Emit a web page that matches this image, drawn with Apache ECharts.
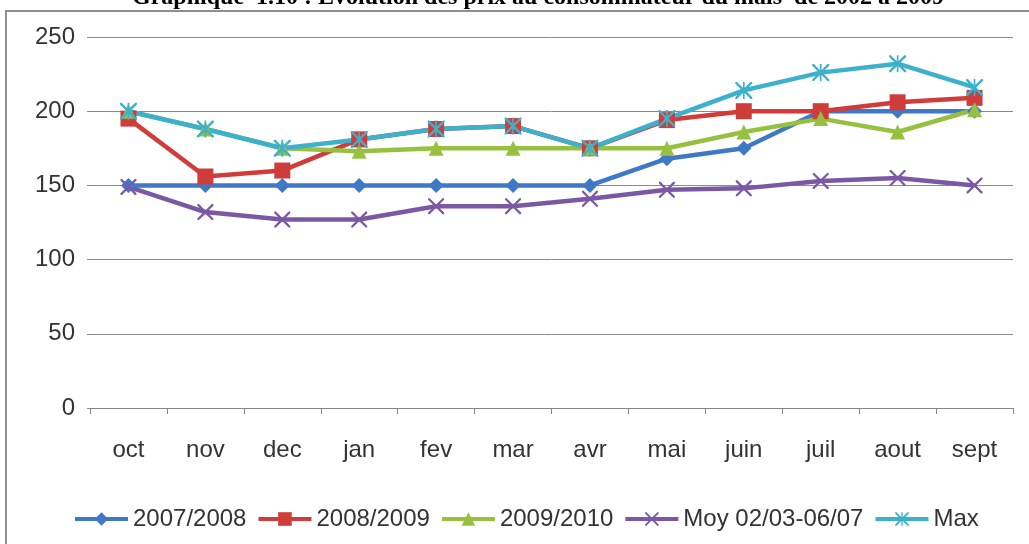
<!DOCTYPE html>
<html>
<head>
<meta charset="utf-8">
<script src="https://cdn.jsdelivr.net/npm/echarts@6/dist/echarts.min.js"></script>
<style>
  html, body { margin: 0; padding: 0; background: #fff; }
  #chart { width: 1029px; height: 544px; }
</style>
</head>
<body>
<div id="chart"></div>
<script>
// Graphique 1.10 - prix au consommateur du maïs

const months = ['oct', 'nov', 'dec', 'jan', 'fev', 'mar', 'avr', 'mai', 'juin', 'juil', 'aout', 'sept'];
const yTicks = [0, 50, 100, 150, 200, 250];

const s2007 = [150, 150, 150, 150, 150, 150, 150, 168, 175, 200, 200, 200];
const s2008 = [195, 156, 160, 181, 188, 190, 175, 194, 200, 200, 206, 209];
const s2009 = [200, 188, 175, 173, 175, 175, 175, 175, 186, 195, 186, 201];
const sMoy = [149, 132, 127, 127, 136, 136, 141, 147, 148, 153, 155, 150];
const sMax = [200, 188, 175, 181, 188, 190, 175, 195, 214, 226, 232, 216];

const names = ['2007/2008', '2008/2009', '2009/2010', 'Moy 02/03-06/07', 'Max'];

// marqueurs "x" et "*" façon Excel
const crossPath = 'path://M0,0L2,0L10,8L18,0L20,0L20,2L12,10L20,18L20,20L18,20L10,12L2,20L0,20L0,18L8,10L0,2Z';
const starPath = 'path://M0,0L2,0L10,8L18,0L20,0L20,2L12,10L20,18L20,20L18,20L10,12L2,20L0,20L0,18L8,10L0,2Z M9,0L11,0L11,20L9,20Z';

const font = 'Liberation Sans, Arial, sans-serif';

function mkSeries(name, data, color, symbol, size) {
    return {
        name: name,
        type: 'line',
        data: data,
        symbol: symbol,
        symbolSize: size,
        showAllSymbol: true,
        lineStyle: { color: color, width: 4.5 },
        itemStyle: { color: color },
        emphasis: { disabled: true }
    };
}

const chart = echarts.init(document.getElementById('chart'));

chart.setOption({
    animation: false,
    graphic: [
        {
            type: 'rect',
            shape: { x: 6, y: 11, width: 1040, height: 560 },
            style: { fill: 'none', stroke: '#8f8f8f', lineWidth: 2 },
            silent: true
        },
        {
            type: 'text',
            left: 132,
            top: -14,
            style: {
                text: 'Graphique  1.10 : Evolution des prix au consommateur du maïs  de 2002 à 2009',
                font: 'bold 24px "Liberation Serif", "Times New Roman", serif',
                fill: '#000'
            },
            silent: true
        }
    ],
    grid: { left: 90, right: 16, top: 37, bottom: 136 },
    legend: {
        data: names,
        left: 68,
        top: 502,
        itemWidth: 53,
        itemHeight: 17,
        itemGap: 10,
        lineStyle: { width: 4 },
        textStyle: { fontFamily: font, fontSize: 24, color: '#333' }
    },
    xAxis: {
        type: 'category',
        data: months,
        boundaryGap: true,
        axisLine: { lineStyle: { color: '#868686', width: 1 } },
        axisTick: { show: true, length: 6, lineStyle: { color: '#868686' } },
        axisLabel: { margin: 30, fontFamily: font, fontSize: 24, color: '#333' },
        splitLine: { show: false }
    },
    yAxis: {
        type: 'value',
        min: yTicks[0],
        max: yTicks[yTicks.length - 1],
        interval: 50,
        axisLine: { show: false },
        axisTick: { show: true, length: 3, lineStyle: { color: '#868686' } },
        axisLabel: { margin: 15, fontFamily: font, fontSize: 24, color: '#333' },
        splitLine: { lineStyle: { color: '#8a8a8a', width: 1 } }
    },
    series: [
        mkSeries(names[0], s2007, '#3f78c6', 'diamond', 15),
        mkSeries(names[1], s2008, '#cf3d3a', 'rect', 16),
        mkSeries(names[2], s2009, '#98c040', 'triangle', 15),
        mkSeries(names[3], sMoy, '#7a58a4', crossPath, 16),
        mkSeries(names[4], sMax, '#3db1cc', starPath, 17)
    ]
});

window.addEventListener('resize', () => chart.resize());
</script>
</body>
</html>
